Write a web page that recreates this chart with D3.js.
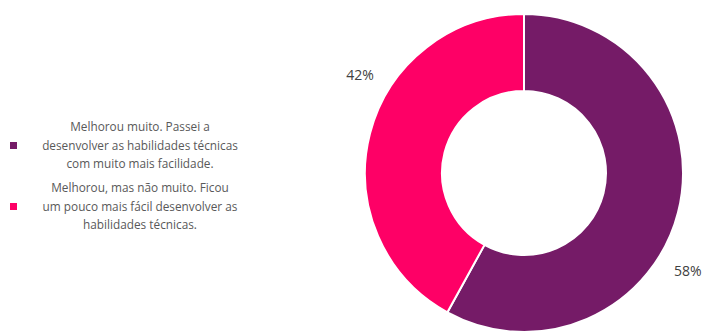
<!DOCTYPE html>
<html>
<head>
<meta charset="utf-8">
<script src="https://cdn.jsdelivr.net/npm/d3@7"></script>
<style>
  html, body { margin: 0; padding: 0; background: #fff; }
  svg { display: block; font-family: "Open Sans", "Noto Sans", sans-serif; }
</style>
</head>
<body>
<svg id="chart" width="705" height="332"></svg>
<script>
// Survey answers and their shares (%)
const categories = [
  "Melhorou muito. Passei a desenvolver as habilidades técnicas com muito mais facilidade.",
  "Melhorou, mas não muito. Ficou um pouco mais fácil desenvolver as habilidades técnicas."
];
const legendLines = [
  ["Melhorou muito. Passei a", "desenvolver as habilidades técnicas", "com muito mais facilidade."],
  ["Melhorou, mas não muito. Ficou", "um pouco mais fácil desenvolver as", "habilidades técnicas."]
];
const values = [58, 42];
const colors = ["#751b67", "#fe0066"];

const svg = d3.select("#chart");
const cx = 524, cy = 173, outerR = 159, innerR = 82;

const color = d3.scaleOrdinal().domain(categories).range(colors);

const pie = d3.pie().sort(null).value(d => d.value);
const arcs = pie(categories.map((c, i) => ({ name: c, value: values[i] })));

const arc = d3.arc().innerRadius(innerR).outerRadius(outerR);

const g = svg.append("g").attr("transform", `translate(${cx},${cy})`);

g.selectAll("path.slice")
  .data(arcs)
  .join("path")
  .attr("class", "slice")
  .attr("d", arc)
  .attr("fill", d => color(d.data.name))
  .attr("stroke", "#fff")
  .attr("stroke-width", 2);

// Percentage labels placed just outside the ring
const labelArc = d3.arc().innerRadius(191).outerRadius(191);
const shift = 16.5 * Math.PI / 180;
g.selectAll("text.pct")
  .data(arcs)
  .join("text")
  .attr("class", "pct")
  .attr("transform", d => {
    const mid = (d.startAngle + d.endAngle) / 2 + shift;
    const [x, y] = labelArc.centroid({ startAngle: mid, endAngle: mid });
    return `translate(${x},${y})`;
  })
  .attr("text-anchor", "middle")
  .attr("dy", "0.35em")
  .attr("font-size", 14)
  .attr("fill", "#404040")
  .text(d => d.data.value + "%");

// Legend
const legend = svg.append("g");
const rowTop = [127, 188];
const lineH = 18.5;
categories.forEach((c, i) => {
  const row = legend.append("g");
  row.append("rect")
    .attr("x", 10).attr("y", rowTop[i] + lineH - 3.5)
    .attr("width", 7).attr("height", 7)
    .attr("fill", color(c));
  row.selectAll("text")
    .data(legendLines[i])
    .join("text")
    .attr("x", 140)
    .attr("y", (d, j) => rowTop[i] + j * lineH)
    .attr("dy", "0.35em")
    .attr("text-anchor", "middle")
    .attr("font-size", 11.8)
    .attr("fill", "#595959")
    .text(d => d);
});
</script>
</body>
</html>
